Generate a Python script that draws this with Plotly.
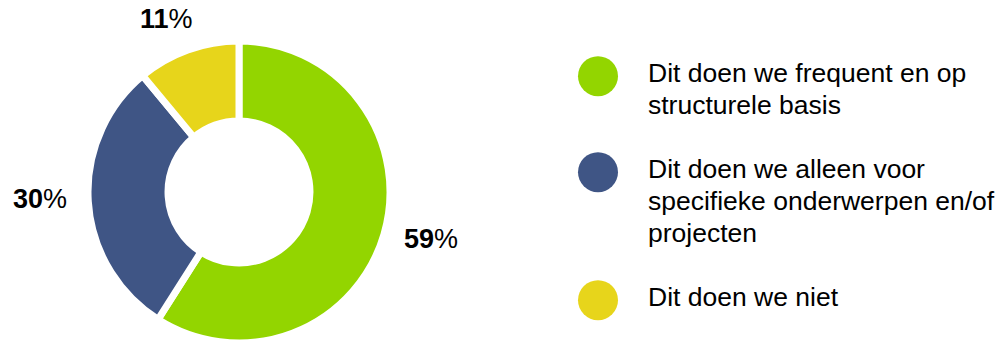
import math
import plotly.graph_objects as go

categories = [
    "Dit doen we frequent en op<br>structurele basis",
    "Dit doen we alleen voor<br>specifieke onderwerpen en/of<br>projecten",
    "Dit doen we niet",
]
values = [59, 30, 11]
colors = ["#93D500", "#3F5585", "#E7D51B"]

W, H = 1002, 343
FONT = "Liberation Sans, Arial, Helvetica, sans-serif"

fig = go.Figure()

# donut
cx, cy, R = 239, 192, 150          # visual centre / outer radius
r_dom, cy_dom = 151, 192            # domain box giving that visual size
fig.add_trace(go.Pie(
    values=values,
    labels=[c.replace("<br>", " ") for c in categories],
    marker=dict(colors=colors, line=dict(color="white", width=7)),
    hole=0.47,
    sort=False,
    direction="clockwise",
    rotation=0,
    textinfo="none",
    hoverinfo="skip",
    showlegend=False,
    domain=dict(x=[(cx - r_dom) / W, (cx + r_dom) / W],
                y=[max(0, (H - cy_dom - r_dom) / H), min(1, (H - cy_dom + r_dom) / H)]),
))

# value labels outside the ring, at each slice's mid angle
total = sum(values)
cum = 0
for v in values:
    mid = (cum + v / 2) / total * 2 * math.pi
    cum += v
    s, c = math.sin(mid), math.cos(mid)
    rr = R + 20
    px, py = cx + rr * s, cy - rr * c
    if s > 0.5:
        xa, ya = "left", "middle"
    elif s < -0.5:
        xa, ya = "right", "middle"
        py -= 4
    else:
        xa, ya = "center", "bottom" if c > 0 else "top"
        px -= 15
        py += 4
    fig.add_annotation(
        x=px / W, y=1 - py / H, xref="paper", yref="paper",
        text=f"<b>{v}</b>%", showarrow=False, xanchor=xa, yanchor=ya,
        font=dict(family=FONT, size=27, color="black"),
    )

# custom legend (circles + wrapped text), stacked by number of lines
line_counts = [c.count("<br>") + 1 for c in categories]
ypos = []
u = 0
for n in line_counts:
    ypos.append(u)
    u += n + 1

fig.add_trace(go.Scatter(
    x=[598] * len(categories),
    y=[y + 0.1 for y in ypos],
    mode="markers",
    marker=dict(size=40, color=colors, symbol="circle"),
    xaxis="x", yaxis="y",
    hoverinfo="skip",
    showlegend=False,
))
for cat, y in zip(categories, ypos):
    for k, line in enumerate(cat.split("<br>")):
        fig.add_annotation(
            x=646, y=y + k, xref="x", yref="y",
            text=line, showarrow=False, xanchor="left", yanchor="middle", align="left",
            font=dict(family=FONT, size=26.5, color="black"),
        )

line_px, first_px = 32, 73
fig.update_layout(
    width=W, height=H,
    margin=dict(l=0, r=0, t=0, b=0),
    paper_bgcolor="white", plot_bgcolor="white",
    xaxis=dict(range=[0, W], domain=[0, 1], visible=False, fixedrange=True),
    yaxis=dict(range=[(H - first_px) / line_px, -first_px / line_px], domain=[0, 1],
               visible=False, fixedrange=True),
)

fig.write_html("out.html")
